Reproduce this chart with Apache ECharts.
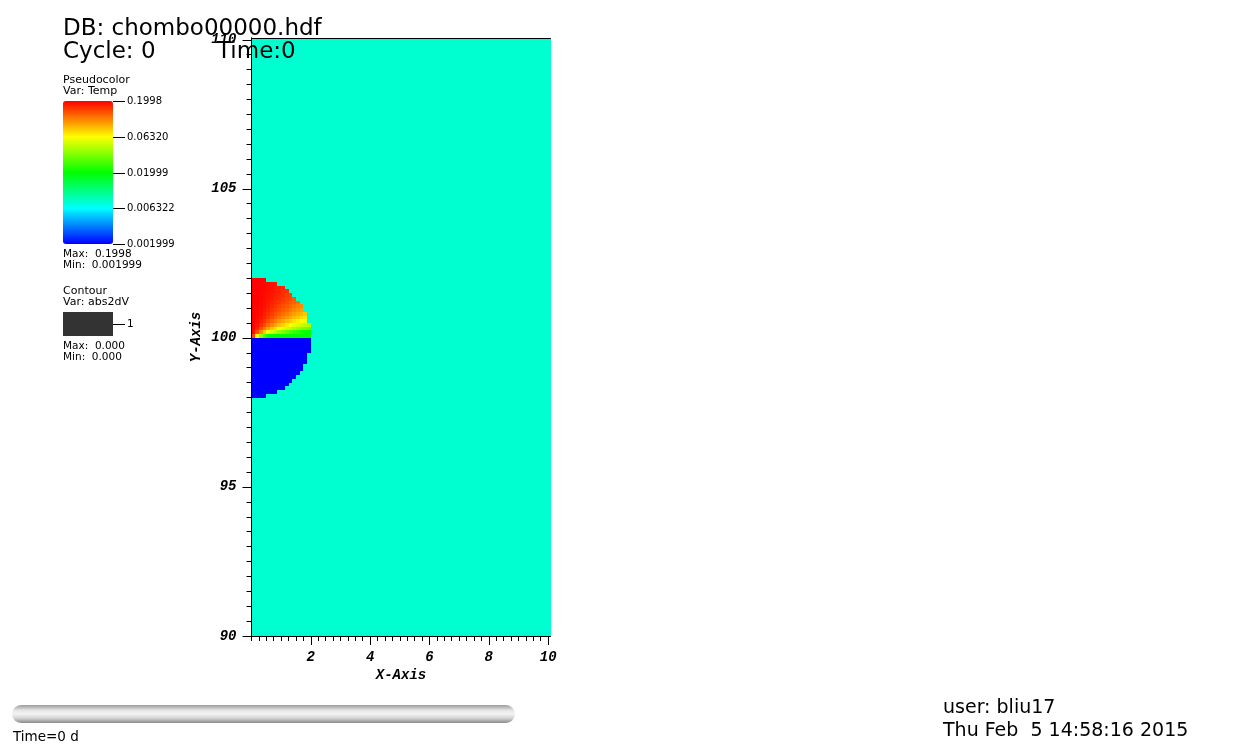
<!DOCTYPE html>
<html><head><meta charset="utf-8">
<script src="https://cdn.jsdelivr.net/npm/echarts@6/dist/echarts.min.js"></script>
<style>html,body{margin:0;padding:0;background:#fff}#c{width:1259px;height:750px}</style>
</head><body><div id="c"></div>
<script>
// ---- data ----
const cellSize = 0.125;
const sphereCenterY = 100;
const domainX = [0, 10.08];
const domainY = [90, 110.06];
const backgroundTemp = 0.0078;
const lowerTemp = 0.001999;
const tempRange = [0.001999, 0.1998];
// upper half rows, from y=100 upward; each entry = Temp of a cell from x=0 outward
const upperRows = [
  [0.141,0.063,0.039,0.028,0.022,0.02,0.02,0.02,0.02,0.02,0.02,0.02,0.02,0.02,0.02,0.02],
  [0.190,0.141,0.103,0.079,0.063,0.053,0.045,0.039,0.035,0.031,0.028,0.026,0.024,0.022,0.021,0.02],
  [0.196,0.171,0.141,0.116,0.097,0.083,0.072,0.063,0.056,0.051,0.046,0.042,0.039,0.036,0.034,0.032],
  [0.198,0.184,0.163,0.141,0.123,0.107,0.095,0.085,0.076,0.069,0.063,0.058,0.054,0.050,0.047,0.044],
  [0.1998,0.190,0.175,0.158,0.141,0.127,0.114,0.103,0.094,0.086,0.079,0.073,0.068,0.063,0.059],
  [0.1998,0.193,0.182,0.169,0.155,0.141,0.129,0.118,0.109,0.100,0.093,0.086,0.081,0.075,0.071],
  [0.1998,0.195,0.187,0.176,0.164,0.153,0.141,0.131,0.121,0.113,0.105,0.098,0.092,0.087,0.082],
  [0.1998,0.196,0.190,0.181,0.171,0.161,0.151,0.141,0.132,0.124,0.116,0.109,0.103,0.097],
  [0.1998,0.197,0.192,0.185,0.177,0.168,0.159,0.150,0.141,0.133,0.126,0.119,0.112,0.107],
  [0.1998,0.198,0.193,0.188,0.181,0.173,0.165,0.157,0.149,0.141,0.134,0.127,0.121],
  [0.1998,0.198,0.195,0.190,0.184,0.177,0.170,0.163,0.155,0.148,0.141,0.135],
  [0.1998,0.198,0.195,0.191,0.186,0.180,0.174,0.168,0.161,0.154,0.148],
  [0.1998,0.1998,0.196,0.193,0.188,0.183,0.177,0.171,0.165,0.159],
  [0.1998,0.1998,0.197,0.194,0.190,0.185,0.180,0.175,0.169],
  [0.1998,0.1998,0.197,0.194,0.191,0.187,0.183],
  [0.1998,0.1998,0.197,0.195]
];
// lower half rows, from y=100 downward: number of cells (all at lowerTemp)
const lowerRowCounts = [16,16,16,16,15,15,15,14,14,13,12,11,10,9,7,4];
const xMajorTicks = [2, 4, 6, 8, 10];
const yMajorTicks = [90, 95, 100, 105, 110];
const xMinorStep = 0.25;
const yMinorStep = 0.5;
const colorbarLabels = ['0.1998', '0.06320', '0.01999', '0.006322', '0.001999'];
const contourLabels = ['1'];

// ---- build cells ----
const L = v => Math.log10(v);
const cells = [];
cells.push([domainX[0], domainY[0], domainX[1], domainY[1], backgroundTemp, L(backgroundTemp)]);
upperRows.forEach((row, k) => {
  row.forEach((v, i) => {
    cells.push([i * cellSize, sphereCenterY + k * cellSize, (i + 1) * cellSize, sphereCenterY + (k + 1) * cellSize, v, L(v)]);
  });
});
lowerRowCounts.forEach((n, k) => {
  for (let i = 0; i < n; i++) {
    cells.push([i * cellSize, sphereCenterY - (k + 1) * cellSize, (i + 1) * cellSize, sphereCenterY - k * cellSize, lowerTemp, L(lowerTemp)]);
  }
});
function ticksEvery(step, lo, hi) {
  const out = [];
  for (let i = 0; lo + i * step <= hi + 1e-9; i++) out.push(+(lo + i * step).toFixed(4));
  return out;
}
const xMinor = ticksEvery(xMinorStep, domainX[0], 10);
const yMinor = ticksEvery(yMinorStep, domainY[0], 110);

const axisFont = { fontFamily: 'Liberation Mono', fontWeight: 'bold', fontStyle: 'italic', fontSize: 14, color: '#000' };
const sans = 'DejaVu Sans';
const black = { color: '#000', width: 1 };

function renderItem(params, api) {
  const p0 = api.coord([api.value(0), api.value(3)]);
  const p1 = api.coord([api.value(2), api.value(1)]);
  const x0 = Math.round(p0[0]), y0 = Math.round(p0[1]);
  const x1 = Math.round(p1[0]), y1 = Math.round(p1[1]);
  return { type: 'rect', shape: { x: x0, y: y0, width: x1 - x0, height: y1 - y0 }, style: { fill: api.visual('color') } };
}

const chart = echarts.init(document.getElementById('c'), null, { renderer: 'canvas' });

function txt(text, x, y, size) {
  return { type: 'text', z: 100, x: x, y: y, style: { text: text, fill: '#000', font: size + 'px "' + sans + '"', textVerticalAlign: 'middle', textAlign: 'left' } };
}
const cbTop = 101, cbBottom = 244;
const graphics = [
  txt('DB: chombo00000.hdf', 63, 29, 23),
  txt('Cycle: 0', 63, 52, 23),
  txt('Time:0', 217, 52, 23),
  txt('Pseudocolor', 63, 80, 11),
  txt('Var: Temp', 63, 91, 11),
  txt('Max:  ' + colorbarLabels[0], 63, 254, 10.5),
  txt('Min:  ' + colorbarLabels[colorbarLabels.length - 1], 63, 265.5, 10.5),
  txt('Contour', 63, 291, 11),
  txt('Var: abs2dV', 63, 302, 11),
  { type: 'rect', z: 100, shape: { x: 63, y: 312, width: 50, height: 24 }, style: { fill: '#333333' } },
  { type: 'line', z: 100, shape: { x1: 113, y1: 324.5, x2: 125, y2: 324.5 }, style: { stroke: '#000', lineWidth: 1 } },
  txt(contourLabels[0], 127, 324.5, 10.5),
  txt('Max:  0.000', 63, 346.5, 10.5),
  txt('Min:  0.000', 63, 357, 10.5),
  { type: 'rect', z: 100, shape: { x: 12, y: 705, width: 503, height: 18, r: 9 },
    style: { fill: new echarts.graphic.LinearGradient(0, 0, 0, 1, [
      { offset: 0, color: '#9c9c9c' }, { offset: 0.3, color: '#e6e6e6' }, { offset: 0.5, color: '#f4f4f4' },
      { offset: 0.75, color: '#d0d0d0' }, { offset: 1, color: '#8a8a8a' }]) } },
  txt('Time=0 d', 13, 737, 13.5),
  txt('user: bliu17', 943, 708, 19),
  txt('Thu Feb  5 14:58:16 2015', 943, 731, 19)
];
colorbarLabels.forEach((lab, i) => {
  const y = cbTop + (cbBottom - cbTop) * i / (colorbarLabels.length - 1);
  graphics.push({ type: 'line', z: 100, shape: { x1: 113, y1: Math.round(y) + 0.5, x2: 125, y2: Math.round(y) + 0.5 }, style: { stroke: '#000', lineWidth: 1 } });
  graphics.push(txt(lab, 127, y + 0.5, 10));
});

const gridRect = { left: 251.5, top: 38, right: 1259 - 550.5, bottom: 114 };

chart.setOption({
  animation: false,
  backgroundColor: '#fff',
  grid: Object.assign({ show: false, containLabel: false }, gridRect),
  xAxis: [
    { type: 'value', min: domainX[0], max: domainX[1], position: 'bottom', z: 10,
      axisLine: { show: true, lineStyle: black }, splitLine: { show: false },
      axisTick: { show: true, customValues: xMajorTicks, length: 9, lineStyle: black },
      axisLabel: Object.assign({ customValues: xMajorTicks, margin: 14 }, axisFont),
      name: 'X-Axis', nameLocation: 'middle', nameGap: 31, nameTextStyle: axisFont },
    { type: 'value', min: domainX[0], max: domainX[1], position: 'bottom', z: 10,
      axisLine: { show: false }, splitLine: { show: false },
      axisTick: { show: true, customValues: xMinor, length: 5, lineStyle: black },
      axisLabel: { show: false } },
    { type: 'value', min: domainX[0], max: domainX[1], position: 'top', z: 10,
      axisLine: { show: true, lineStyle: black }, splitLine: { show: false },
      axisTick: { show: false }, axisLabel: { show: false } }
  ],
  yAxis: [
    { type: 'value', min: domainY[0], max: domainY[1], position: 'left', z: 10,
      axisLine: { show: true, lineStyle: black }, splitLine: { show: false },
      axisTick: { show: true, customValues: yMajorTicks, length: 9, lineStyle: black },
      axisLabel: Object.assign({ customValues: yMajorTicks, margin: 15 }, axisFont),
      name: 'Y-Axis', nameLocation: 'middle', nameGap: 48, nameRotate: 90, nameTextStyle: axisFont },
    { type: 'value', min: domainY[0], max: domainY[1], position: 'left', z: 10,
      axisLine: { show: false }, splitLine: { show: false },
      axisTick: { show: true, customValues: yMinor, length: 5, lineStyle: black },
      axisLabel: { show: false } },
    { type: 'value', min: domainY[0], max: domainY[1], position: 'right', z: 10,
      axisLine: { show: true, lineStyle: black }, splitLine: { show: false },
      axisTick: { show: false }, axisLabel: { show: false } }
  ],
  visualMap: {
    type: 'continuous', min: L(tempRange[0]), max: L(tempRange[1]), dimension: 5, seriesIndex: 0,
    inRange: { color: ['#0000ff', '#00ffff', '#00ff00', '#ffff00', '#ff0000'] },
    left: 63, top: cbTop, itemWidth: 50, itemHeight: cbBottom - cbTop, padding: 0,
    text: null, showLabel: false, calculable: false, hoverLink: false, realtime: false
  },
  series: [{
    type: 'custom', xAxisIndex: 0, yAxisIndex: 0, renderItem: renderItem,
    encode: { x: [0, 2], y: [1, 3] }, data: cells, clip: true, silent: true
  }],
  graphic: graphics
});
</script></body></html>
